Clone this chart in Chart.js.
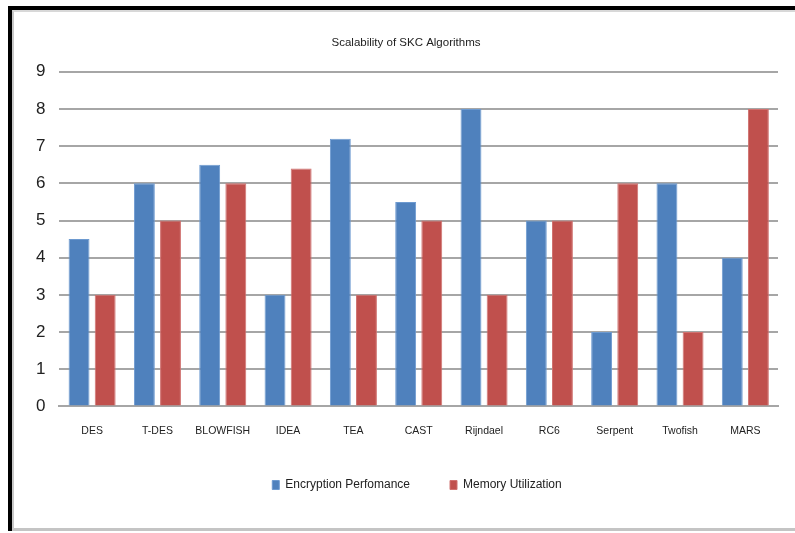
<!DOCTYPE html>
<html>
<head>
<meta charset="utf-8">
<script src="https://cdn.jsdelivr.net/npm/chart.js@4.4.0/dist/chart.umd.min.js"></script>
<style>
  html, body { margin: 0; padding: 0; background: #fff; }
  #wrap { position: relative; width: 795px; height: 533px; overflow: hidden; }
  #frame {
    position: absolute; left: 8px; top: 6px; width: 800px; height: 521px;
    border-top: 4px solid #000; border-left: 4px solid #000;
  }
  #inner {
    position: absolute; left: 0; top: 0; right: 0; bottom: 0;
    border-left: 2px solid #c8c8c8; border-top: 2px solid #d8d8d8; border-bottom: 3px solid #c4c4c4;
  }
  canvas { position: absolute; left: 0; top: 0; }
</style>
</head>
<body>
<div id="wrap">
  <div id="frame"><div id="inner"></div></div>
  <canvas id="c" width="795" height="533"></canvas>
</div>
<script>
const algorithms = ['DES', 'T-DES', 'BLOWFISH', 'IDEA', 'TEA', 'CAST', 'Rijndael', 'RC6', 'Serpent', 'Twofish', 'MARS'];
const encryptionPerformance = [4.5, 6, 6.5, 3, 7.2, 5.5, 8, 5, 2, 6, 4];
const memoryUtilization = [3, 5, 6, 6.4, 3, 5, 3, 5, 6, 2, 8];
const yTicks = [0, 1, 2, 3, 4, 5, 6, 7, 8, 9];

const FONT = "'Liberation Sans', Arial, sans-serif";

// Nudge the title and legend blocks sideways so they sit over the plot area
const blockOffsets = {
  id: 'blockOffsets',
  afterLayout(chart) {
    const t = chart.titleBlock, l = chart.legend;
    if (t) { t.left += 6; t.right += 6; }
    if (l) { l.left += 17; l.right += 17; }
  }
};

new Chart(document.getElementById('c'), {
  type: 'bar',
  data: {
    labels: algorithms,
    datasets: [
      {
        label: 'Encryption Perfomance',
        data: encryptionPerformance,
        backgroundColor: '#4F81BD',
        borderColor: '#6d9ad0',
        borderWidth: 1
      },
      {
        label: 'Memory Utilization',
        data: memoryUtilization,
        backgroundColor: '#C0504D',
        borderColor: '#d07270',
        borderWidth: 1
      }
    ]
  },
  options: {
    responsive: false,
    animation: false,
    layout: { padding: { left: 22, right: 17, top: 18, bottom: 32 } },
    datasets: { bar: { categoryPercentage: 0.8, barPercentage: 0.8 } },
    plugins: {
      title: {
        display: true,
        text: 'Scalability of SKC Algorithms',
        color: '#222',
        font: { family: FONT, size: 11.5, weight: 'normal' },
        padding: { top: 18, bottom: 22 }
      },
      legend: {
        position: 'bottom',
        labels: {
          color: '#222',
          font: { family: FONT, size: 12 },
          boxWidth: 7,
          boxHeight: 9,
          padding: 40,
          useBorderRadius: false
        }
      },
      tooltip: { enabled: false }
    },
    scales: {
      x: {
        grid: { display: false, drawTicks: true, tickLength: 16 },
        border: { display: true, color: '#a6a6a6', width: 2 },
        ticks: { color: '#222', font: { family: FONT, size: 10.5 }, padding: 2, maxRotation: 0, autoSkip: false }
      },
      y: {
        min: 0,
        max: 9,
        afterBuildTicks: (axis) => { axis.ticks = yTicks.map(v => ({ value: v })); },
        grid: { color: '#a6a6a6', lineWidth: 2, drawTicks: false },
        border: { display: false },
        ticks: { color: '#222', font: { family: FONT, size: 17 }, padding: 14 }
      }
    }
  },
  plugins: [blockOffsets]
});
</script>
</body>
</html>
